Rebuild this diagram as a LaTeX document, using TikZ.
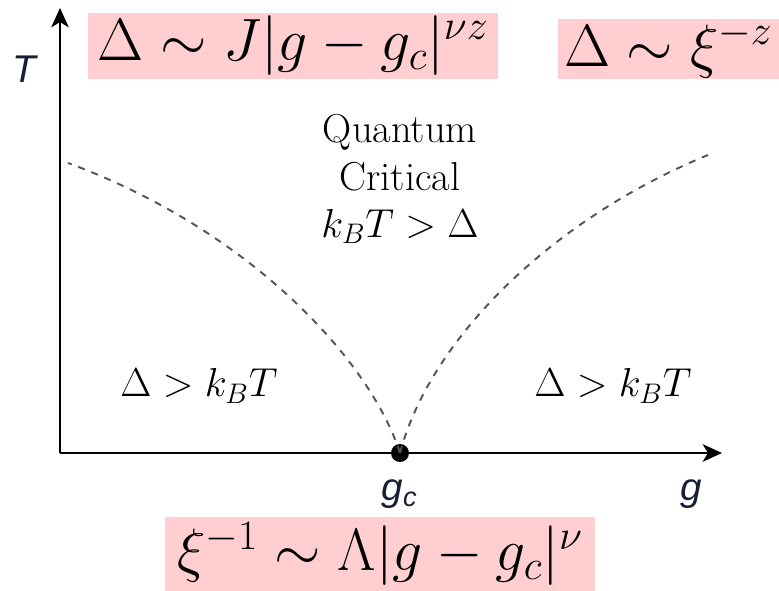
\RequirePackage{fix-cm}
\documentclass[tikz,border=0pt]{standalone}
\usepackage{fontspec}
\newfontfamily\axisfont{Liberation Sans}
\usetikzlibrary{arrows.meta}
\definecolor{eqpink}{RGB}{255,206,208}
\definecolor{axisink}{RGB}{24,30,52}
\definecolor{dashgray}{RGB}{85,85,85}

\begin{document}
\begin{tikzpicture}[x=0.02cm, y=-0.02cm, thick,
    axis/.style={line width=1.4pt, -{Stealth[length=11pt, width=10pt, inset=3pt]}},
    critdot/.style={circle, fill=black, inner sep=0pt, minimum size=0.36cm},
    crossover/.style={dashgray, line width=1.1pt, dash pattern=on 4pt off 4pt},
    eqbox/.style={fill=eqpink, inner sep=0pt, font=\fontsize{34}{40}\selectfont},
    axislabel/.style={text=axisink, inner sep=0pt, font=\axisfont\itshape\fontsize{22}{26}\selectfont},
    regionlabel/.style={inner sep=0pt, font=\fontsize{23}{27}\selectfont}]
    \useasboundingbox (0,0) rectangle (779,591);

    % Axes and the critical point
    \coordinate (origin) at (60,453);
    \coordinate (Ttip) at (60,8);
    \coordinate (gtip) at (722,453);
    \draw[axis] (origin) -- (Ttip);
    \draw[axis] (origin) -- (gtip);
    \node[critdot] (gc) at (400,453) {};
    \node[axislabel, anchor=base] (Tlabel) at (24,83) {T};
    \node[axislabel, anchor=base] (glabel) at (691,501) {g};
    \node[axislabel, anchor=base west] (gclabel) at (381,501) {g\textsubscript{c}};

    % Crossover lines
    \coordinate (leftend) at (68,163);
    \coordinate (rightend) at (708,155);
    \draw[crossover] (gc.center) .. controls (370,360) and (250,230) .. (leftend);
    \draw[crossover] (gc.center) .. controls (430,340) and (550,220) .. (rightend);

    % Regions
    \node[regionlabel, align=center, anchor=north] (critical) at (400,114)
      {Quantum\\Critical\\$k_BT > \Delta$};
    \node[regionlabel, anchor=base] (leftgap) at (199,397) {$\Delta > k_BT$};
    \node[regionlabel, anchor=base] (rightgap) at (613,397) {$\Delta > k_BT$};

    % Scaling relations
    \node[eqbox, minimum width=8.2cm, minimum height=1.32cm] (gapscaling) at (293,46)
      {$\Delta \sim J|g - g_c|^{\nu z}$};
    \node[eqbox, minimum width=4.42cm, minimum height=1.2cm] (gaplength) at (668.5,49)
      {$\Delta \sim \xi^{-z}$};
    \node[eqbox, minimum width=8.6cm, minimum height=1.5cm] (lengthscaling) at (380,554)
      {$\xi^{-1} \sim \Lambda|g - g_c|^{\nu}$};
\end{tikzpicture}
\end{document}
